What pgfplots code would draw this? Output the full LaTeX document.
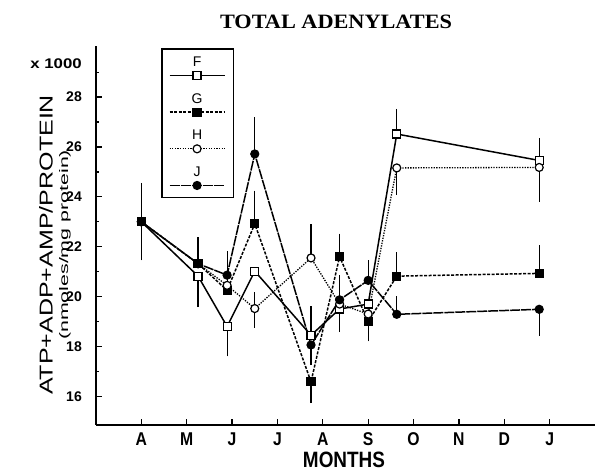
\documentclass[border=0pt]{standalone}
\usepackage{fontspec}
\setmainfont{Liberation Serif}
\setsansfont{Liberation Sans}
\usepackage{graphicx}
\usepackage{pgfplots}
\pgfplotsset{compat=1.18}
\usepackage{pgfplotstable}

\newcommand{\hs}[2]{\scalebox{#1}[1]{#2}}

\pgfplotsset{
  leglab/.style={legend image code/.code={\draw[mark repeat=2,mark phase=2,##1] plot coordinates {(0pt,0pt) (27.5pt,0pt) (55pt,0pt)};
    \node[font=\sffamily\fontsize{14}{14}\selectfont, text=black, inner sep=0pt, anchor=base] at (27.5pt,9pt) {#1};}},
}

\pgfplotstableread{
x y
0 23.0
1.25 20.82
1.89 18.8
2.5 21.02
3.74 18.45
4.37 19.5
5.0 19.7
5.63 26.52
8.77 25.46
}\Fdata
\pgfplotstableread{
x y
0 23.0
1.25 21.32
1.89 20.25
2.5 22.92
3.74 16.58
4.37 21.6
5.0 19.0
5.63 20.82
8.77 20.93
}\Gdata
\pgfplotstableread{
x y
0 23.0
1.25 21.32
1.89 20.45
2.5 19.52
3.74 21.55
4.37 19.7
5.0 19.3
5.63 25.16
8.77 25.18
}\Hdata
\pgfplotstableread{
x y
0 23.0
1.25 21.32
1.89 20.86
2.5 25.72
3.74 18.06
4.37 19.87
5.0 20.65
5.63 19.29
8.77 19.49
}\Jdata
% upper error bars
\pgfplotstableread{
x y e
0 23.0 1.36
1.25 21.32 0.86
1.89 20.86 0.76
1.89 20.45 0.97
2.5 25.72 1.28
2.5 22.92 1.13
2.5 19.52 0.45
3.74 18.45 0.97
3.74 21.55 1.15
4.37 21.6 0.72
4.37 19.87 0.79
5.0 20.65 0.6
5.63 26.52 0.81
5.63 20.82 0.76
5.63 19.29 0.53
8.77 25.46 0.70
8.77 20.93 0.92
}\Up
% lower error bars
\pgfplotstableread{
x y e
0 23.0 1.35
1.25 20.82 1.04
1.89 18.8 1.0
2.5 19.52 0.56
3.74 18.06 0.61
3.74 16.58 0.65
4.37 19.5 0.72
5.0 19.0 0.6
5.63 25.16 0.87
8.77 25.18 1.18
8.77 19.49 0.87
}\Lo

\begin{document}
\begin{tikzpicture}
\begin{axis}[
  scale only axis, width=499pt, height=379pt,
  xmin=-1, xmax=10, ymin=14.85, ymax=30.05,
  axis x line*=bottom, axis y line*=left,
  axis line style={line width=1.6pt, black},
  tick align=inside,
  major tick length=6pt, minor tick length=3.5pt,
  tick style={line width=1.3pt, black},
  xtick={0,...,9},
  xticklabels={\hs{0.85}{A},\hs{0.85}{M},\hs{0.85}{J},\hs{0.85}{J},\hs{0.85}{A},\hs{0.85}{S},\hs{0.85}{O},\hs{0.85}{N},\hs{0.85}{D},\hs{0.85}{J}},
  xticklabel style={font=\sffamily\bfseries\fontsize{18.5}{18.5}\selectfont, anchor=north, inner sep=0pt, yshift=-7pt, text height=13.3pt, text depth=0pt},
  ytick={16,18,...,28},
  minor ytick={17,19,...,29},
  /pgf/number format/assume math mode=true,
  yticklabel={\pgfmathprintnumber{\tick}},
  yticklabel style={font=\sffamily\bfseries\fontsize{14}{14}\selectfont, anchor=east, inner sep=0pt, xshift=-14pt},
  clip=false,
  legend style={at={(0.1303,0.9947)}, anchor=north west, draw=black, line width=1.6pt,
    inner xsep=7pt, inner ysep=8pt, row sep=14pt, nodes={inner sep=0pt}},
  every axis plot/.append style={line width=1.5pt},
]
% error bars
\addplot[forget plot, draw=none, mark=none,
  error bars/.cd, y dir=plus, y explicit,
  error bar style={draw=black, solid, line width=1.2pt},
  error mark options={draw=black, solid, line width=1.2pt, mark size=5pt}]
  table[x=x, y=y, y error=e]{\Up};
\addplot[forget plot, draw=none, mark=none,
  error bars/.cd, y dir=minus, y explicit,
  error bar style={draw=black, solid, line width=1.2pt},
  error mark options={draw=black, solid, line width=1.2pt, mark size=5pt}]
  table[x=x, y=y, y error=e]{\Lo};

\addplot[black, solid, mark=square*, mark size=4pt,
  mark options={solid, fill=white, line width=1.2pt}, leglab=F]
  table[x=x,y=y]{\Fdata};
\addlegendentry{\mbox{}}
\addplot[black, dash pattern=on 3pt off 1.5pt, mark=square*, mark size=4pt,
  mark options={solid, fill=black, line width=1.2pt}, leglab=G]
  table[x=x,y=y]{\Gdata};
\addlegendentry{\mbox{}}
\addplot[black, line width=1.3pt, dash pattern=on 1.3pt off 1.3pt, mark=*, mark size=4pt,
  mark options={solid, fill=white, line width=1.2pt}, leglab=H]
  table[x=x,y=y]{\Hdata};
\addlegendentry{\mbox{}}
\addplot[black, dash pattern=on 10pt off 1pt, mark=*, mark size=4pt,
  mark options={solid, fill=black, line width=1.2pt}, leglab=J]
  table[x=x,y=y]{\Jdata};
\addlegendentry{\mbox{}}

\node[rotate=90, inner sep=0pt, font=\sffamily] at ([xshift=-50pt]rel axis cs:0,0.475) {\resizebox{300pt}{13.5pt}{ATP+ADP+AMP/PROTEIN}};
\node[rotate=90, inner sep=0pt, font=\sffamily] at ([xshift=-31pt]rel axis cs:0,0.475) {\resizebox{190pt}{9pt}{(nmoles/mg protein)}};
\node[inner sep=0pt, font=\rmfamily\bfseries] at (rel axis cs:0.481,1.0646) {\resizebox{232pt}{13.5pt}{TOTAL ADENYLATES}};
\node[anchor=east, inner sep=0pt, font=\sffamily\bfseries\fontsize{14}{14}\selectfont] at ([xshift=-14pt,yshift=8pt]axis cs:-1,29) {\hs{1.2}{x 1000}};
\node[inner sep=0pt, font=\sffamily\bfseries] at ([yshift=-35pt]rel axis cs:0.497,0) {\resizebox{82pt}{15.5pt}{MONTHS}};
\end{axis}
\pgfresetboundingbox
\path[use as bounding box] ([xshift=-96pt,yshift=-49pt]current axis.south west) rectangle ([yshift=46pt]current axis.north east);
\end{tikzpicture}
\end{document}
